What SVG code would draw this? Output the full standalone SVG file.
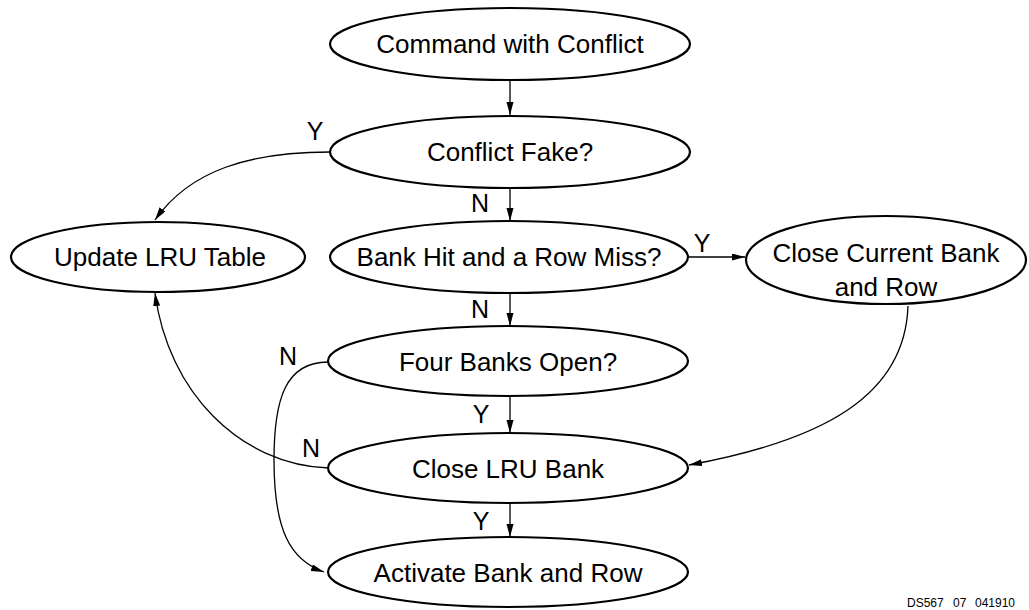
<svg xmlns="http://www.w3.org/2000/svg" width="1029" height="610" viewBox="0 0 1029 610">
<defs>
<marker id="arr" markerUnits="userSpaceOnUse" markerWidth="14" markerHeight="8" refX="13" refY="3.5" orient="auto">
<path d="M0,0 L13,3.5 L0,7 z" fill="#000"/>
</marker>
<style>
.n ellipse{fill:#fff;stroke:#000;stroke-width:2.2}
.n text,.lbl{font-family:"Liberation Sans",Arial,sans-serif;font-size:26px;fill:#000;text-anchor:middle}
.lbl{font-size:25px}
.c path,.c line{fill:none;stroke:#000;stroke-width:1.3;marker-end:url(#arr)}
.fig{font-family:"Liberation Sans",Arial,sans-serif;font-size:12px;fill:#000}
</style>
</defs>
<rect width="1029" height="610" fill="#fff"/>
<g class="c" id="connectors">
<line x1="510" y1="80" x2="510" y2="115"/>
<line x1="510" y1="188" x2="510" y2="221"/>
<line x1="510" y1="293" x2="510" y2="326"/>
<line x1="510" y1="397" x2="510" y2="433"/>
<line x1="510" y1="504" x2="510" y2="537"/>
<line x1="688" y1="257" x2="745" y2="257"/>
<path d="M330 152 C250 152 190 170 155 220"/>
<path d="M329 468 C240 465 168 392 155 293"/>
<path d="M328 362 C285 362 274 400 274 460 C274 530 290 560 324 572"/>
<path d="M908 306 C905 395 825 440 689 465"/>
</g>
<g class="n" id="n1"><ellipse cx="510" cy="44" rx="180" ry="36"/><text x="510" y="53">Command with Conflict</text></g>
<g class="n" id="n2"><ellipse cx="510" cy="152" rx="180" ry="36"/><text x="510" y="161">Conflict Fake?</text></g>
<g class="n" id="n3"><ellipse cx="509" cy="257" rx="179" ry="36"/><text x="509" y="266">Bank Hit and a Row Miss?</text></g>
<g class="n" id="n4"><ellipse cx="158" cy="257" rx="147" ry="35"/><text x="160" y="266">Update LRU Table</text></g>
<g class="n" id="n5"><ellipse cx="886" cy="260" rx="140" ry="44"/><text x="886" y="262">Close Current Bank</text><text x="886" y="296">and Row</text></g>
<g class="n" id="n6"><ellipse cx="508" cy="361" rx="180" ry="35"/><text x="508" y="371">Four Banks Open?</text></g>
<g class="n" id="n7"><ellipse cx="508" cy="468" rx="180" ry="35"/><text x="508" y="478">Close LRU Bank</text></g>
<g class="n" id="n8"><ellipse cx="508" cy="572" rx="180" ry="35"/><text x="508" y="582">Activate Bank and Row</text></g>
<g id="labels">
<text class="lbl" x="315" y="140">Y</text>
<text class="lbl" x="480" y="212">N</text>
<text class="lbl" x="480" y="318">N</text>
<text class="lbl" x="702" y="252">Y</text>
<text class="lbl" x="288" y="365">N</text>
<text class="lbl" x="481" y="423">Y</text>
<text class="lbl" x="311" y="457">N</text>
<text class="lbl" x="481" y="530">Y</text>
</g>
<text class="fig" x="907" y="607">DS567</text>
<text class="fig" x="953" y="607">07</text>
<text class="fig" x="975" y="607">041910</text>
</svg>
